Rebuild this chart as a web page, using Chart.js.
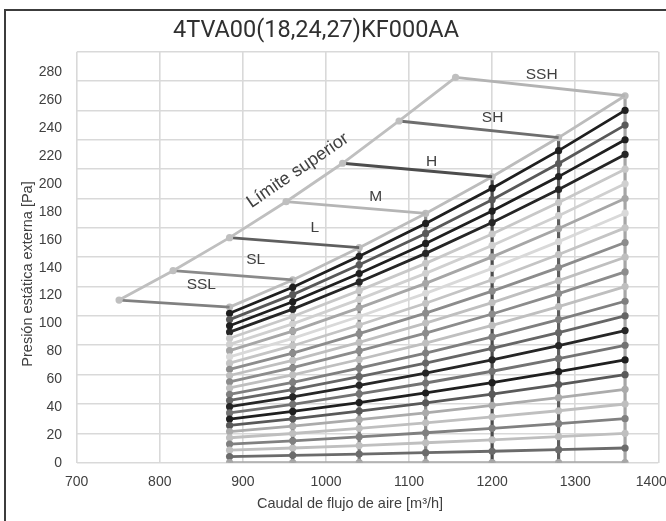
<!DOCTYPE html>
<html>
<head>
<meta charset="utf-8">
<script src="https://cdn.jsdelivr.net/npm/chart.js@4.4.1/dist/chart.umd.min.js"></script>
<style>
  html, body { margin: 0; padding: 0; background: #ffffff; }
  #wrap { position: relative; width: 666px; height: 521px; overflow: hidden; }
  #frame { position: absolute; left: 4px; top: 9px; width: 720px; height: 620px;
           border-left: 2px solid #3c3c3c; border-top: 2px solid #3c3c3c; }
  #c { position: absolute; left: 0; top: 0; }
</style>
</head>
<body>
<div id="wrap"><div id="frame"></div><canvas id="c" width="666" height="521"></canvas></div>
<script>
// ---------- texts ----------
const chartTitle = '4TVA00(18,24,27)KF000AA';
const xAxisTitle = 'Caudal de flujo de aire [m³/h]';
const yAxisTitle = 'Presión estática externa [Pa]';
const limitLabel = 'Límite superior';

// ---------- tick labels ----------
const xTickValues = [700, 800, 900, 1000, 1100, 1200, 1300, 1400];
const yTickValues = [0, 20, 40, 60, 80, 100, 120, 140, 160, 180, 200, 220, 240, 260, 280];

// ---------- fan taps (categories) ----------
const tapNames = ['SSL', 'SL', 'L', 'M', 'H', 'SH', 'SSH'];
const tapFlow  = [884, 960, 1040, 1120, 1200, 1280, 1360];

// ---------- external static pressure curves, one value per ESP setting (26 settings) ----------
const espSSL = [0, 4.2, 8.5, 12.7, 17.0, 21.2, 25.4, 29.7, 33.9, 38.2, 42.4, 46.6, 50.9, 55.1, 59.4, 63.6, 67.8, 72.1, 76.3, 80.6, 84.8, 89.0, 93.3, 97.5, 101.8, 106.0];
const espSL  = [0, 5.0, 10.0, 14.9, 19.9, 24.9, 29.9, 34.9, 39.8, 44.8, 49.8, 54.8, 59.8, 64.7, 69.7, 74.7, 79.7, 84.7, 89.6, 94.6, 99.6, 104.6, 109.6, 114.5, 119.5, 124.5];
const espL   = [0, 5.9, 11.7, 17.6, 23.4, 29.3, 35.2, 41.0, 46.9, 52.7, 58.6, 64.5, 70.3, 76.2, 82.0, 87.9, 93.8, 99.6, 105.5, 111.3, 117.2, 123.1, 128.9, 134.8, 140.6, 146.5];
const espM   = [0, 6.8, 13.6, 20.4, 27.2, 34.0, 40.7, 47.5, 54.3, 61.1, 67.9, 74.7, 81.5, 88.3, 95.1, 101.9, 108.6, 115.4, 122.2, 129.0, 135.8, 142.6, 149.4, 156.2, 163.0, 169.8];
const espH   = [0, 7.8, 15.6, 23.4, 31.2, 39.0, 46.7, 54.5, 62.3, 70.1, 77.9, 85.7, 93.5, 101.3, 109.1, 116.9, 124.6, 132.4, 140.2, 148.0, 155.8, 163.6, 171.4, 179.2, 187.0, 194.8];
const espSH  = [0, 8.9, 17.7, 26.6, 35.4, 44.3, 53.2, 62.0, 70.9, 79.7, 88.6, 97.5, 106.3, 115.2, 124.0, 132.9, 141.8, 150.6, 159.5, 168.3, 177.2, 186.1, 194.9, 203.8, 212.6, 221.5];
const espSSH = [0, 10, 20, 30, 40, 50, 60, 70, 80, 90, 100, 110, 120, 130, 140, 150, 160, 170, 180, 190, 200, 210, 220, 230, 240, 250];

// ---------- upper limit curve ----------
const limitFlow = [751, 816, 884, 952, 1020, 1088, 1156];
const limitPa   = [110.8, 130.8, 153.3, 177.8, 204.0, 232.8, 262.5];

// ---------- styles ----------
const lineColors = ['#a6a6a6', '#6b6b6b', '#bfbfbf', '#808080', '#bfbfbf', '#ababab', '#595959', '#1f1f1f',
                    '#737373', '#262626', '#666666', '#7f7f7f', '#bfbfbf', '#8c8c8c', '#bfbfbf', '#8c8c8c',
                    '#c4c4c4', '#d9d9d9', '#a6a6a6', '#d0d0d0', '#c8c8c8', '#262626', '#1f1f1f', '#595959',
                    '#1f1f1f', '#bcbcbc'];
const columnColors = ['#b3b3b3', '#5f5f5f', '#7f7f7f', '#8c8c8c', '#4d4d4d', '#5f5f5f', '#a6a6a6'];
const tapLineColors = ['#808080', '#8a8a8a', '#5f5f5f', '#b5b5b5', '#4d4d4d', '#6e6e6e', '#b3b3b3'];
const limitColor = '#bfbfbf';
const textColor = '#404040';
const FONT = '"Liberation Sans", Arial, sans-serif';
const LW = 2.8, PR = 3.6;

// annotation anchors (data coordinates)
const tapLabelAt = [[850, 121], [915.5, 138], [986.5, 160.4], [1060, 181.2], [1127, 205], [1200.6, 235], [1259.6, 264.1]];
const limitLabelAt = [966, 199];

// ---------- build datasets ----------
const espColumns = [espSSL, espSL, espL, espM, espH, espSH, espSSH];
const datasets = [];

datasets.push({
  label: limitLabel,
  data: limitFlow.map((f, i) => ({ x: f, y: limitPa[i] })),
  borderColor: limitColor, backgroundColor: limitColor,
  pointBackgroundColor: limitColor, pointBorderWidth: 0, pointRadius: PR,
  borderWidth: LW, order: 1
});
tapNames.forEach((n, c) => {
  const col = espColumns[c];
  datasets.push({
    label: n,
    data: [{ x: limitFlow[c], y: limitPa[c] }, { x: tapFlow[c], y: col[col.length - 1] }],
    borderColor: tapLineColors[c], borderWidth: LW, pointRadius: 0, order: 1
  });
});
for (let i = 0; i < espSSH.length; i++) {
  datasets.push({
    label: espSSH[i] + ' Pa',
    data: tapFlow.map((f, c) => ({ x: f, y: espColumns[c][i] })),
    borderColor: lineColors[i], backgroundColor: lineColors[i],
    pointBackgroundColor: lineColors[i], pointBorderWidth: 0, pointRadius: PR,
    borderWidth: LW, order: 2
  });
}
tapFlow.forEach((f, c) => {
  const col = espColumns[c];
  datasets.push({
    label: tapNames[c] + ' column',
    data: [{ x: f, y: 0 }, { x: f, y: col[col.length - 1] }],
    borderColor: columnColors[c], borderWidth: 3.2, pointRadius: 0, order: 3
  });
});

// ---------- text layer plugin ----------
const textLayer = {
  id: 'textLayer',
  afterDatasetsDraw(chart) {
    const { ctx, scales } = chart;
    const x = scales.x, y = scales.y;
    ctx.save();
    ctx.fillStyle = textColor;
    ctx.textAlign = 'center';
    ctx.textBaseline = 'middle';
    ctx.font = '15.5px ' + FONT;
    tapNames.forEach((n, i) => {
      ctx.fillText(n, x.getPixelForValue(tapLabelAt[i][0]), y.getPixelForValue(tapLabelAt[i][1]));
    });
    // rotated label along the limit curve
    const ax = x.getPixelForValue(limitFlow[1]), ay = y.getPixelForValue(limitPa[1]);
    const bx = x.getPixelForValue(limitFlow[6]), by = y.getPixelForValue(limitPa[6]);
    const ang = Math.atan2(by - ay, bx - ax);
    ctx.save();
    ctx.translate(x.getPixelForValue(limitLabelAt[0]), y.getPixelForValue(limitLabelAt[1]));
    ctx.rotate(ang);
    ctx.font = '18px ' + FONT;
    ctx.fillText(limitLabel, 0, 0);
    ctx.restore();
    // chart title
    ctx.fillStyle = '#303030';
    ctx.font = '23.5px Roboto, ' + FONT;
    ctx.fillText(chartTitle, 316, 31);
    // axis titles
    ctx.fillStyle = textColor;
    ctx.font = '14.5px ' + FONT;
    ctx.fillText(xAxisTitle, 350, 504);
    ctx.save();
    ctx.translate(27.5, 274);
    ctx.rotate(-Math.PI / 2);
    ctx.fillText(yAxisTitle, 0, 0);
    ctx.restore();
    ctx.restore();
  }
};

const gridStyle = { color: '#d9d9d9', lineWidth: 1.6, drawTicks: false };
const tickFont = { family: FONT, size: 14 };
const noSidePad = s => { s.paddingLeft = 0; s.paddingRight = 0; };
const lastX = xTickValues[xTickValues.length - 1];

new Chart(document.getElementById('c'), {
  type: 'line',
  data: { datasets },
  plugins: [textLayer],
  options: {
    responsive: false,
    animation: false,
    events: [],
    layout: { padding: { left: 0, right: 7.7, top: 51.7, bottom: 0 } },
    plugins: { legend: { display: false }, tooltip: { enabled: false }, title: { display: false } },
    elements: { line: { tension: 0, fill: false } },
    scales: {
      x: {
        type: 'linear', position: 'bottom', min: 700, max: 1400,
        afterBuildTicks: s => { s.ticks = xTickValues.map(v => ({ value: v })); },
        grid: gridStyle, border: { display: false },
        ticks: { padding: 11, color: textColor, font: tickFont, maxRotation: 0,
                 callback: v => (v === lastX ? '' : String(v)) },
        afterFit: s => { s.height = 58.3; noSidePad(s); }
      },
      x2: {
        type: 'linear', position: { y: 0 }, min: 700, max: 1400,
        afterBuildTicks: s => { s.ticks = [{ value: lastX }]; },
        grid: { display: false, drawTicks: false }, border: { display: false },
        ticks: { padding: 11, color: textColor, font: tickFont, maxRotation: 0, labelOffset: -7,
                 callback: v => String(v) },
        afterFit: s => { noSidePad(s); }
      },
      y: {
        type: 'linear', position: 'left', weight: 0, min: 0, max: 280,
        afterBuildTicks: s => { s.ticks = yTickValues.map(v => ({ value: v })); },
        grid: gridStyle, border: { display: false },
        ticks: { display: false },
        afterFit: s => { s.width = 0; }
      },
      yl: {
        type: 'linear', position: 'left', weight: 1, min: 0, max: 295,
        afterBuildTicks: s => { s.ticks = yTickValues.map(v => ({ value: v })); },
        grid: { display: false, drawTicks: false }, border: { display: false },
        ticks: { padding: 14.7, color: textColor, font: tickFont },
        afterFit: s => { s.width = 76.7; }
      }
    }
  }
});
</script>
</body>
</html>
